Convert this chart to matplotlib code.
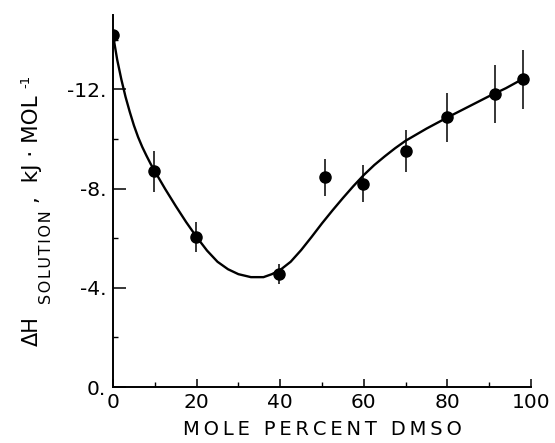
# Entalpia de solucion vs porcentaje molar de DMSO
import numpy as np
import matplotlib
matplotlib.use("Agg")
import matplotlib.pyplot as plt

# puntos experimentales
mol_pct = [0, 9.8, 19.9, 39.7, 50.6, 59.9, 70.1, 79.8, 91.3, 98.1]
dh_sol = [-14.2, -8.7, -6.05, -4.55, -8.45, -8.2, -9.5, -10.87, -11.8, -12.4]
dh_err = [0.2, 0.82, 0.6, 0.4, 0.76, 0.75, 0.85, 1.0, 1.17, 1.2]

# curva dibujada a mano
curva_x = [0, 1, 2, 3, 4, 5, 6, 7, 8, 9, 10, 12.5, 15, 17.5, 20, 22.5, 25, 27.5,
           30, 33, 36, 38, 40, 42.5, 45, 47.5, 50, 52.5, 55, 57.5, 60, 62.5, 65,
           67.5, 70, 75, 80, 85, 90, 94, 98]
curva_y = [-14.2, -13.2, -12.4, -11.7, -11.1, -10.55, -10.08, -9.68, -9.33, -9.0,
           -8.7, -7.98, -7.3, -6.65, -6.05, -5.5, -5.05, -4.75, -4.55, -4.43,
           -4.43, -4.55, -4.72, -5.05, -5.52, -6.05, -6.6, -7.12, -7.62, -8.1,
           -8.55, -8.95, -9.3, -9.63, -9.93, -10.42, -10.87, -11.3, -11.73,
           -12.05, -12.42]

xticks = [0, 20, 40, 60, 80, 100]
yticks = [0, -4, -8, -12]
ytick_labels = ["0.", "-4.", "-8.", "-12."]

W, H = 555, 443
fig = plt.figure(figsize=(W / 100, H / 100), dpi=100)
ax = fig.add_axes([0.2036, 0.1264, 0.7532, 0.8397])

ax.plot(curva_x, curva_y, color="black", lw=1.7, zorder=2)
ax.errorbar(mol_pct, dh_sol, yerr=dh_err, fmt="o", color="black", ms=8,
            elinewidth=1.1, capsize=0, zorder=3)

ax.set_xlim(0, 100)
ax.set_ylim(0, -15)
for s in ["top", "right"]:
    ax.spines[s].set_visible(False)
ax.spines["left"].set_linewidth(1.4)
ax.spines["bottom"].set_linewidth(1.4)

ax.set_xticks(xticks)
ax.set_xticklabels([str(v) for v in xticks])
ax.set_xticks([10, 30, 50, 70, 90], minor=True)
ax.set_yticks(yticks)
ax.set_yticklabels(ytick_labels)
ax.set_yticks([-2, -6, -10, -14], minor=True)

ax.tick_params(axis="both", which="major", direction="in", labelsize=14.5, width=1.1)
ax.tick_params(axis="y", which="major", length=9, pad=5)
ax.tick_params(axis="x", which="major", length=6, pad=4)
ax.tick_params(axis="both", which="minor", direction="in", length=3.5, width=1.0)

sp = "\u2009"
ax.set_xlabel(sp.join("MOLE PERCENT DMSO"), fontsize=14, labelpad=6)

# etiqueta del eje y armada por partes (posiciones en pixeles)
def ytext(x, y, s, size):
    fig.text(x / W, (H - y) / H, s, rotation=90, rotation_mode="anchor",
             ha="left", va="baseline", fontsize=size)

ytext(38, 346, "\u0394H", 15)
ytext(51, 304, "\u200a".join("SOLUTION"), 11.5)
ytext(38, 203, ",  kJ \u00b7 MOL", 15.5)
ytext(29, 88, "-1", 9.5)

plt.savefig("out.png", dpi=100)
